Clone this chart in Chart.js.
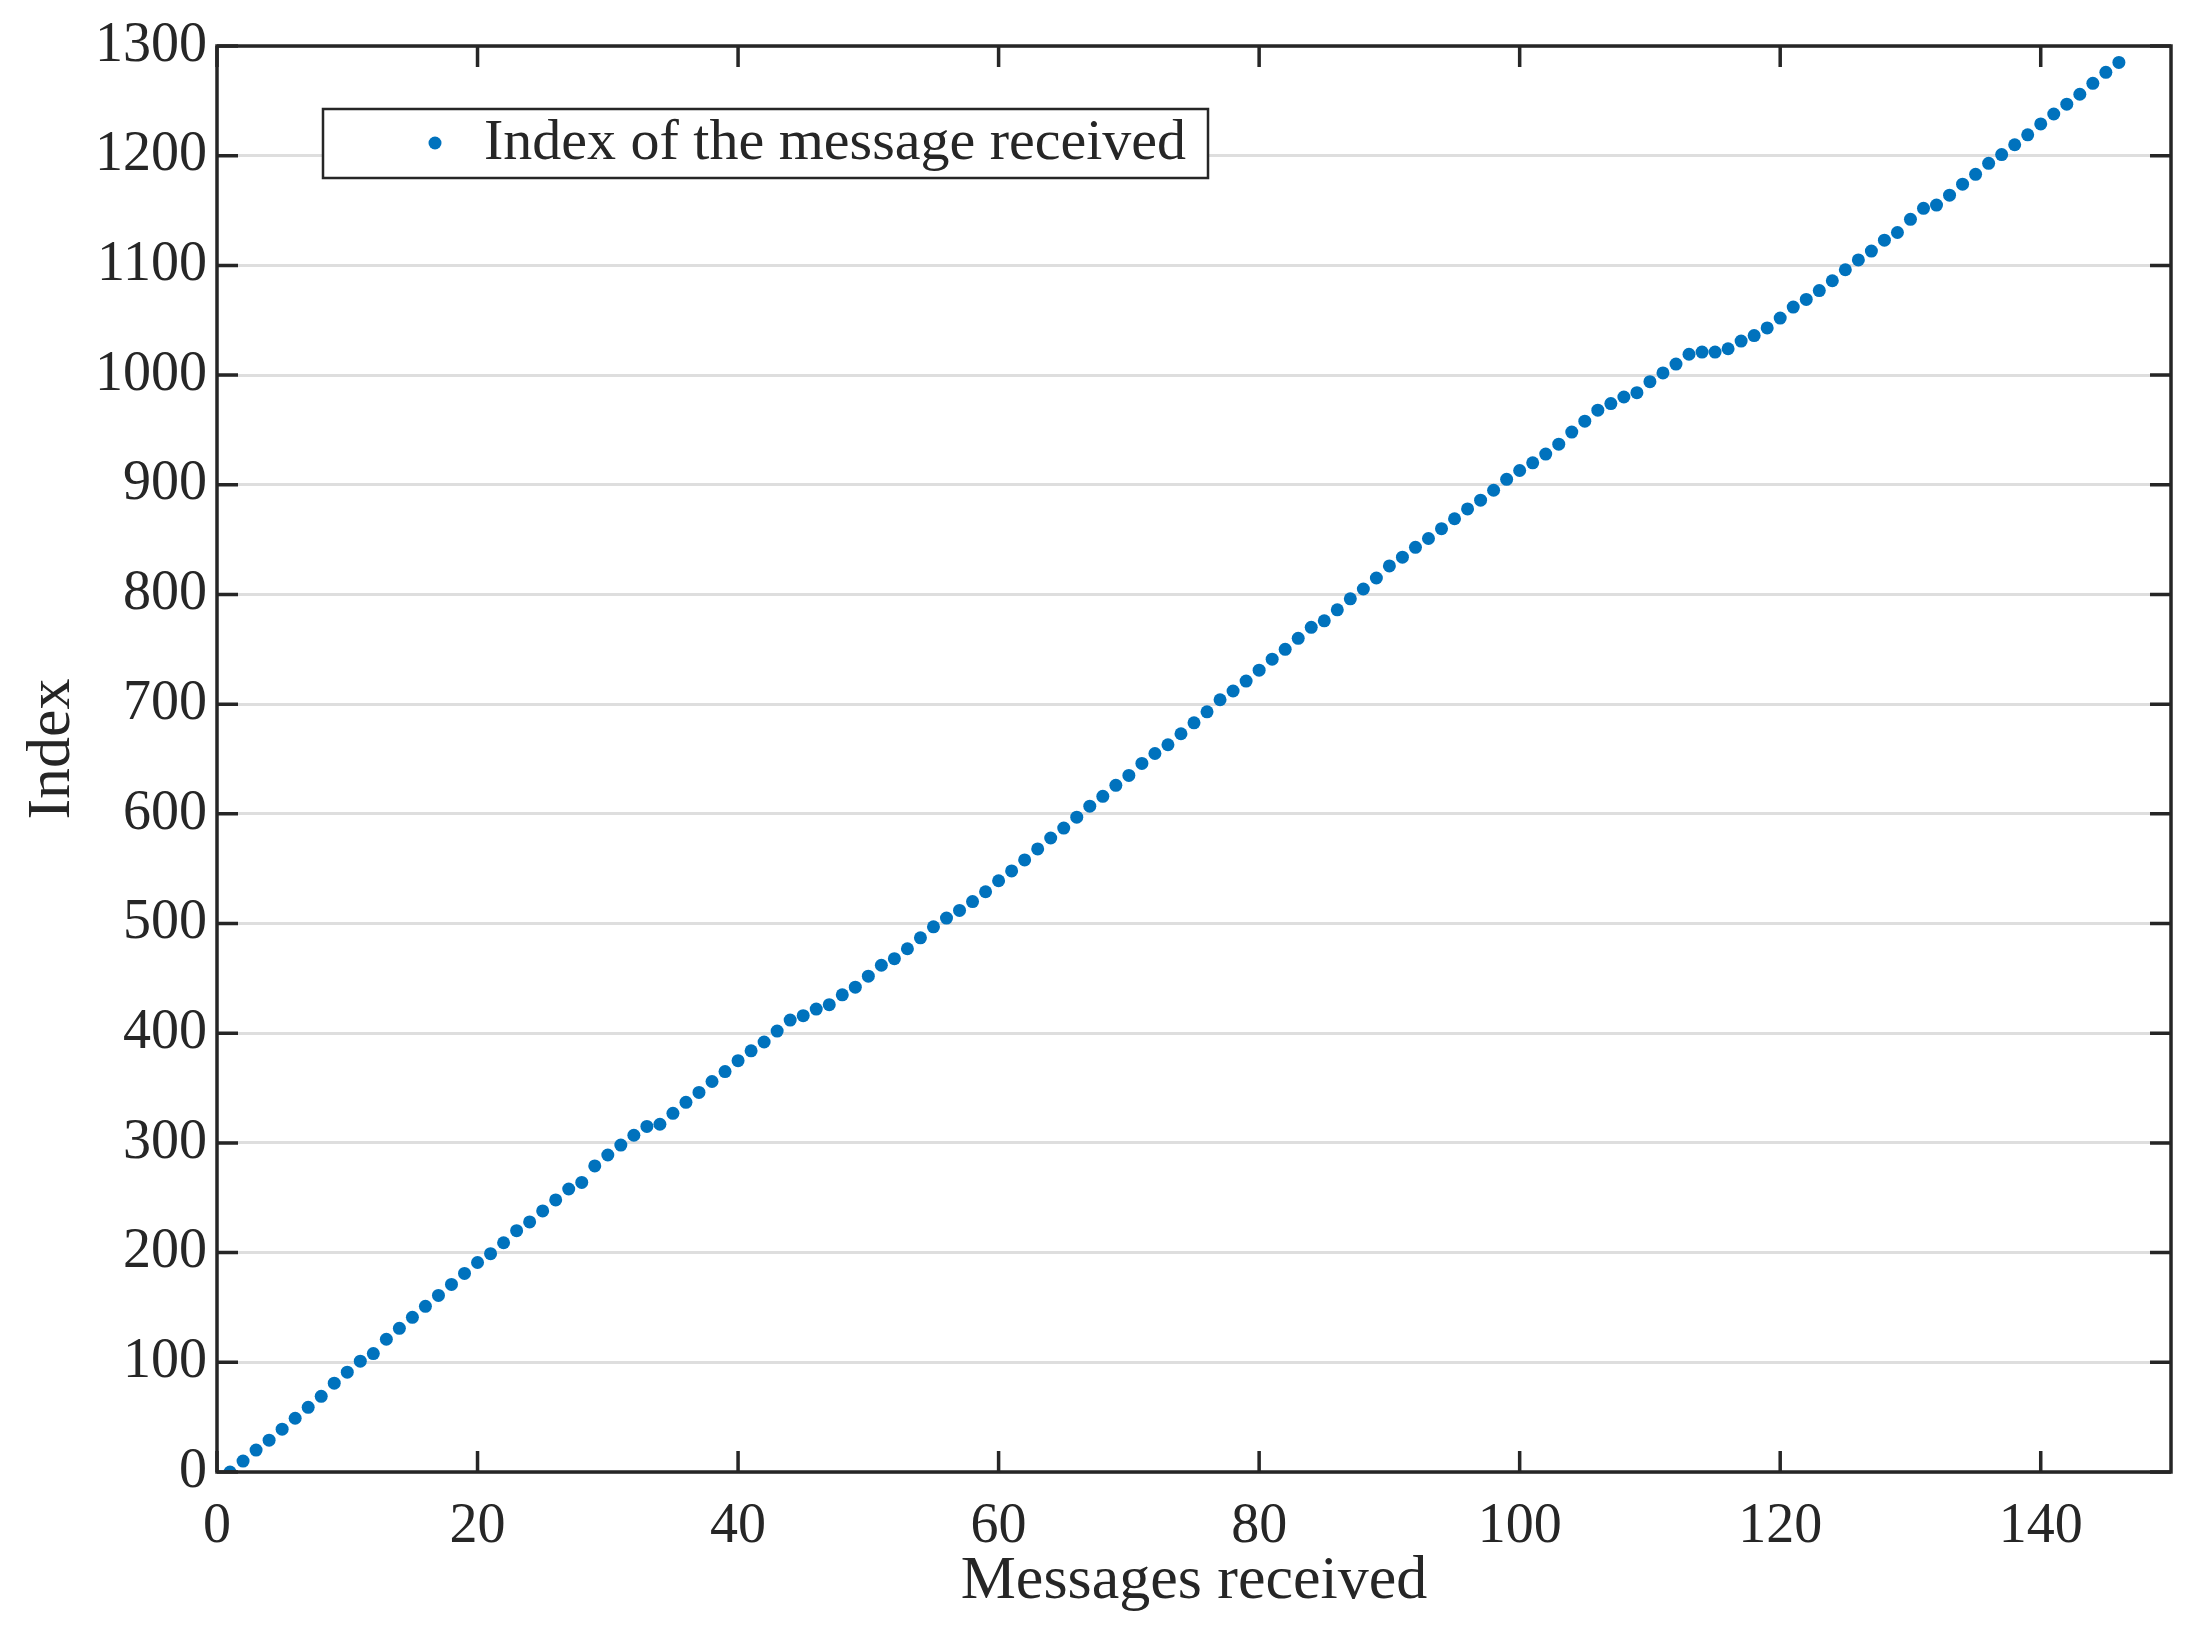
<!DOCTYPE html>
<html><head><meta charset="utf-8">
<script src="https://cdn.jsdelivr.net/npm/chart.js@4/dist/chart.umd.min.js"></script>
<style>html,body{margin:0;padding:0;background:#fff}#wrap{width:2193px;height:1631px}</style>
</head><body><div id="wrap"><canvas id="c" width="2193" height="1631"></canvas></div>
<script>
const messagesReceived = [];
for (let i = 1; i <= 146; i++) messagesReceived.push(i);
const indexValues = [
0,10,20,29,39,49,59,69,81,91,101,108,121,131,141,151,161,171,181,191,
199,209,220,228,238,248,258,264,279,289,298,307,315,317,327,337,346,356,365,375,
384,392,402,412,416,422,426,435,442,452,462,468,477,487,497,505,512,520,529,539,
548,558,568,578,587,597,607,616,626,635,646,655,663,673,683,693,704,712,721,731,
741,750,760,770,776,786,796,805,815,826,834,843,851,860,869,878,886,895,905,913,
920,928,937,948,958,968,974,980,984,994,1002,1010,1019,1021,1021,1024,1031,1036,1043,1052,
1062,1069,1077,1086,1096,1105,1113,1123,1130,1142,1152,1155,1164,1174,1183,1193,1201,1210,1219,1229,
1238,1247,1256,1266,1276,1285];
const xTicks = [0,20,40,60,80,100,120,140];
const legendLabel = 'Index of the message received';
const xTitle = 'Messages received';
const yTitle = 'Index';

const FONT = '"Liberation Serif", "Times New Roman", serif';
const DARK = '#262626';
const BLUE = '#0072BD';

const deco = {
  id: 'deco',
  afterDraw(chart) {
    const {ctx, chartArea: a, scales: {x, y}} = chart;
    ctx.save();
    ctx.strokeStyle = DARK; ctx.lineWidth = 3.5;
    ctx.strokeRect(a.left, a.top, a.right - a.left, a.bottom - a.top);
    const L = 21;
    ctx.beginPath();
    xTicks.forEach(v => { const p = x.getPixelForValue(v);
      ctx.moveTo(p, a.bottom); ctx.lineTo(p, a.bottom - L);
      ctx.moveTo(p, a.top); ctx.lineTo(p, a.top + L); });
    for (let v = 0; v <= 1300; v += 100) { const p = y.getPixelForValue(v);
      ctx.moveTo(a.left, p); ctx.lineTo(a.left + L, p);
      ctx.moveTo(a.right, p); ctx.lineTo(a.right - L, p); }
    ctx.stroke();
    ctx.fillStyle = DARK; ctx.font = '62px ' + FONT;
    ctx.textAlign = 'center'; ctx.textBaseline = 'middle';
    ctx.fillText(xTitle, (a.left + a.right) / 2, 1582);
    ctx.save(); ctx.translate(53, (a.top + a.bottom) / 2 - 10); ctx.rotate(-Math.PI / 2);
    ctx.fillText(yTitle, 0, 0); ctx.restore();
    ctx.fillStyle = '#fff';
    ctx.fillRect(323, 109, 885, 69);
    ctx.lineWidth = 2.5; ctx.strokeStyle = DARK;
    ctx.strokeRect(323, 109, 885, 69);
    ctx.fillStyle = BLUE; ctx.beginPath(); ctx.arc(435, 143, 6.5, 0, Math.PI * 2); ctx.fill();
    ctx.fillStyle = DARK; ctx.font = '58px ' + FONT; ctx.textAlign = 'left';
    ctx.fillText(legendLabel, 484, 144);
    ctx.restore();
  }
};

new Chart(document.getElementById('c'), {
  type: 'scatter',
  data: { datasets: [{ label: legendLabel,
    data: messagesReceived.map((m, i) => ({x: m, y: indexValues[i]})),
    backgroundColor: BLUE, borderColor: BLUE, pointRadius: 6.5, pointBorderWidth: 0 }] },
  options: {
    responsive: false, animation: false, devicePixelRatio: 1,
    layout: { padding: { top: 46, right: 22, left: 0, bottom: 0 } },
    plugins: { legend: { display: false }, tooltip: { enabled: false } },
    scales: {
      x: { type: 'linear', min: 0, max: 150,
        afterFit(s) { s.height = 159; },
        afterBuildTicks(s) { s.ticks = xTicks.map(v => ({value: v})); },
        grid: { display: false, drawTicks: false }, border: { display: false },
        ticks: { padding: 22, color: DARK, font: { family: FONT, size: 56 }, maxRotation: 0,
          callback: v => String(v) } },
      y: { type: 'linear', min: 0, max: 1300,
        afterFit(s) { s.width = 217; },
        grid: { color: '#dedede', lineWidth: 3, drawTicks: false }, border: { display: false },
        ticks: { stepSize: 100, padding: 10, color: DARK, font: { family: FONT, size: 56 },
          callback: v => String(v) } }
    }
  },
  plugins: [deco]
});
</script></body></html>
